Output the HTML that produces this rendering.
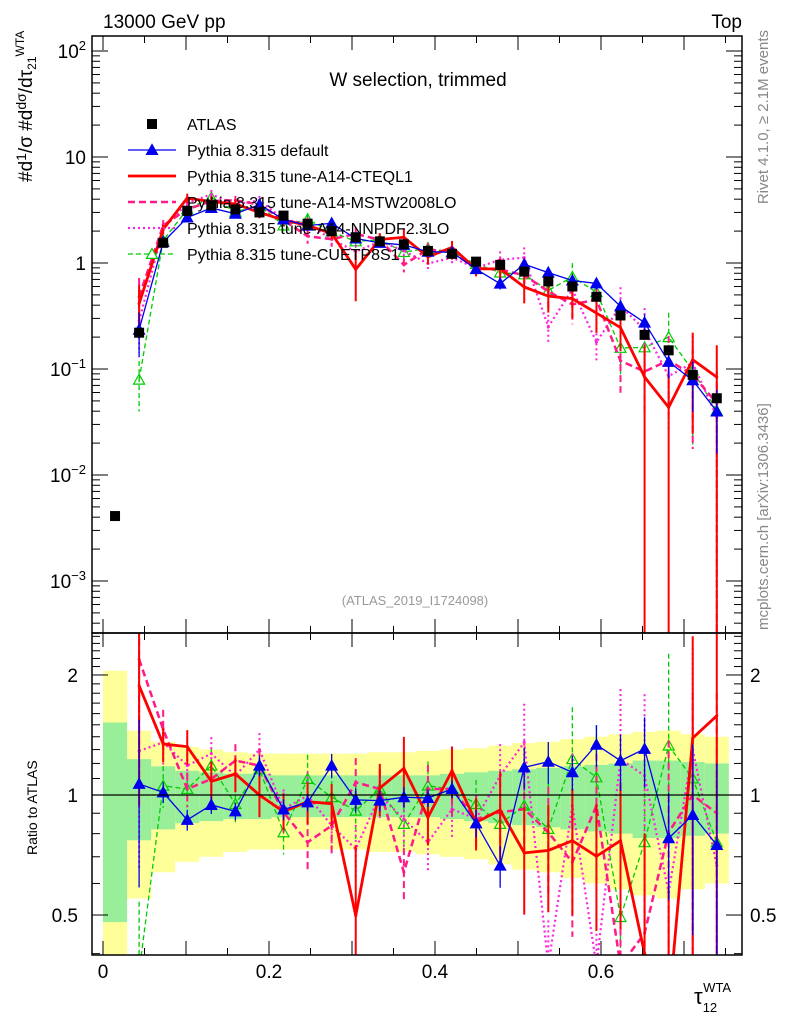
<!DOCTYPE html>
<html><head><meta charset="utf-8"><style>
html,body{margin:0;padding:0;background:#fff;width:786px;height:1024px;overflow:hidden;}
svg{display:block;font-family:"Liberation Sans",sans-serif;overflow:hidden;}
</style></head><body>
<svg id="chart" width="786" height="1024" viewBox="0 0 786 1024">
<defs>
<clipPath id="cm"><rect x="92" y="36" width="650" height="597"/></clipPath>
<clipPath id="cr"><rect x="92" y="633" width="650" height="322"/></clipPath>
</defs>
<g id="ratio-bands" clip-path="url(#cr)"></g>
<g id="main-series" clip-path="url(#cm)"></g>
<g id="ratio-series" clip-path="url(#cr)"></g>
<line x1="92" y1="795" x2="742" y2="795" stroke="#000" stroke-width="1.2"/>
<rect x="92" y="36" width="650" height="597" fill="none" stroke="#000" stroke-width="1.5"/>
<rect x="92" y="633" width="650" height="322" fill="none" stroke="#000" stroke-width="1.5"/>
<g id="ticks" stroke="#000" stroke-width="1"></g>
<g id="labels" font-size="19" fill="#000"></g>
<text x="103" y="28" font-size="19">13000 GeV pp</text>
<text x="742" y="28" font-size="19" text-anchor="end">Top</text>
<text x="418" y="86" font-size="19" text-anchor="middle">W selection, trimmed</text>
<text x="415" y="605" font-size="13" fill="#999" text-anchor="middle">(ATLAS_2019_I1724098)</text>
<text transform="translate(768,30) rotate(-90)" font-size="15" fill="#888" text-anchor="end">Rivet 4.1.0, ≥ 2.1M events</text>
<text transform="translate(768,630) rotate(-90)" font-size="15" fill="#888">mcplots.cern.ch [arXiv:1306.3436]</text>
<text transform="translate(32,182) rotate(-90)" font-size="19">#d<tspan font-size="14" dy="-6">1</tspan><tspan dy="6">/σ</tspan> #d<tspan font-size="14" dy="-6">dσ</tspan><tspan dy="6">/dτ</tspan><tspan font-size="12" dy="4">21</tspan><tspan font-size="12" dy="-12">WTA</tspan></text>
<text transform="translate(37,855) rotate(-90)" font-size="14">Ratio to ATLAS</text>
<text x="694" y="1004" font-size="22">τ<tspan font-size="13" dy="8">12</tspan><tspan font-size="13" dx="-14" dy="-20">WTA</tspan></text>
<g id="legend" font-size="16"></g>
</svg>
<script>
const binWidth = 0.029;
const atlas = [0.0041,0.22,1.55,3.1,3.5,3.2,3.0,2.8,2.35,2.0,1.75,1.6,1.5,1.3,1.22,1.03,0.96,0.83,0.67,0.6,0.48,0.32,0.21,0.15,0.088,0.053];
const bandStat = [0.52,0.23,0.18,0.15,0.14,0.13,0.13,0.12,0.12,0.12,0.12,0.12,0.12,0.12,0.13,0.14,0.15,0.16,0.17,0.18,0.19,0.20,0.22,0.22,0.21,0.20];
const bandTot = [1.05,0.45,0.36,0.32,0.30,0.28,0.27,0.27,0.27,0.27,0.27,0.28,0.28,0.29,0.30,0.31,0.33,0.35,0.36,0.38,0.40,0.42,0.44,0.45,0.42,0.40];
const ratioDefault = [1.066,1.015,0.866,0.944,0.91,1.185,0.92,0.958,1.185,0.972,0.968,0.987,0.983,1.035,0.849,0.665,1.173,1.212,1.14,1.337,1.219,1.305,0.779,0.891,0.749];
const ratioCTEQ = [1.88,1.342,1.322,1.082,1.129,1.0,0.908,0.962,0.951,0.498,1.041,1.166,0.879,1.151,0.854,0.917,0.716,0.726,0.768,0.702,0.768,0.4,0.29,1.39,1.58];
const ratioMSTW = [2.19,1.46,1.035,1.097,1.22,1.185,0.905,0.761,0.838,1.076,1.035,0.64,1.035,1.035,0.871,0.905,0.922,0.806,0.678,0.94,0.373,0.45,0.806,1.0,0.9];
const ratioNNPDF = [1.29,1.355,1.185,1.27,1.118,1.30,0.922,0.996,0.838,0.732,0.996,0.871,0.761,0.922,0.871,1.118,1.355,0.373,0.94,0.373,1.23,1.118,0.57,1.30,0.665];
const ratioCUETP = [0.36,1.055,1.035,1.185,0.949,1.16,0.806,1.097,0.987,0.913,1.035,0.846,1.055,1.035,0.949,0.846,0.94,0.822,1.23,1.107,0.494,0.761,1.33,1.1,0.761];
const errDefault = [0.45,0.06,0.06,0.05,0.05,0.06,0.06,0.05,0.07,0.07,0.06,0.06,0.05,0.05,0.08,0.12,0.12,0.12,0.1,0.12,0.16,0.2,0.3,0.5,0.6];
const errCTEQ = [0.5,0.1,0.1,0.12,0.1,0.12,0.1,0.12,0.12,0.5,0.15,0.2,0.15,0.15,0.15,0.25,0.3,0.3,0.35,0.35,0.4,1,1,0.8,1];
const errOther = [0.5,0.12,0.1,0.1,0.1,0.1,0.12,0.15,0.15,0.15,0.12,0.15,0.15,0.15,0.15,0.2,0.25,0.3,0.35,0.35,0.5,0.6,0.7,0.8,1];
const xTicks = [0,0.2,0.4,0.6];
const mainTicks = [2,1,0,-1,-2,-3];
const ratioTicks = [2,1,0.5];

const NS="http://www.w3.org/2000/svg";
const xs = v => 103 + 830*v;
const ym = v => 263 - 106*Math.log10(v);
const yr = r => r<=0 ? 2000 : 795 - 398.7*Math.log10(r);
const ctr = k => (k+0.5)*binWidth;
function mk(tag, attrs, parent){const e=document.createElementNS(NS,tag);for(const k in attrs)e.setAttribute(k,attrs[k]);parent.appendChild(e);return e;}

const bands=document.getElementById('ratio-bands');
const mainG=document.getElementById('main-series');
const ratG=document.getElementById('ratio-series');
atlas.forEach((v,k)=>{
  const x0=xs(k*binWidth), x1=xs((k+1)*binWidth);
  const top=yr(1+bandTot[k]), bot=Math.min(yr(1-bandTot[k]),960);
  const yb=mk('rect',{x:x0,y:top,width:x1-x0,height:bot-top,fill:'#ffff99'},bands);
  
  
});
atlas.forEach((v,k)=>{
  const x0=xs(k*binWidth), x1=xs((k+1)*binWidth);
  const gb=mk('rect',{x:x0,y:yr(1+bandStat[k]),width:x1-x0,height:yr(1-bandStat[k])-yr(1+bandStat[k]),fill:'#99ee99'},bands);
  
  
});

const series=[
 {name:'cuetp8s1',r:ratioCUETP,e:errOther,c:'#00cc00',w:1.3,d:'5,3',m:'open'},
 {name:'nnpdf23lo',r:ratioNNPDF,e:errOther,c:'#ff22dd',w:2.2,d:'2,3',m:'dot'},
 {name:'mstw2008lo',r:ratioMSTW,e:errOther,c:'#ff1a88',w:2.5,d:'7,4',m:'dot'},
 {name:'cteql1',r:ratioCTEQ,e:errCTEQ,c:'#ff0000',w:2.8,d:'',m:'dot'},
 {name:'default',r:ratioDefault,e:errDefault,c:'#0000ee',w:1.3,d:'',m:'tri'}
];
function tri(x,y,s,fill,stroke,g){return mk('polygon',{points:`${x},${y-s} ${x-s},${y+s*0.8} ${x+s},${y+s*0.8}`,fill:fill,stroke:stroke,'stroke-width':1.2},g);}
const clampY=(y,lo,hi)=>Math.max(lo,Math.min(hi,y));
series.forEach(s=>{
  [['main',mainG],['ratio',ratG]].forEach(([pan,g])=>{
    const lo=pan==='main'?30:628, hi=pan==='main'?640:962;
    const pts=s.r.map((r,i)=>{const k=i+1;const y=pan==='main'?ym(atlas[k]*r):yr(r);return [xs(ctr(k)),clampY(y,lo-200,hi+200)];});
    s.r.forEach((r,i)=>{
      const k=i+1;const x=xs(ctr(k));
      const l=Math.max(r*(1-s.e[i]),1e-6), h=r*(1+s.e[i]);
      const y1=pan==='main'?ym(atlas[k]*h):yr(h), y2=pan==='main'?ym(atlas[k]*l):yr(l);
      const eb=mk('line',{x1:x,x2:x,y1:clampY(y1,lo,hi),y2:clampY(y2,lo,hi),stroke:s.c,'stroke-width':Math.min(s.w,2),'stroke-dasharray':s.d},g);
      
      
    });
    const pl=mk('polyline',{points:pts.map(p=>p.join(',')).join(' '),fill:'none',stroke:s.c,'stroke-width':s.w,'stroke-dasharray':s.d},g);
    
    
    pts.forEach(p=>{
      if(p[1]<lo||p[1]>hi)return;
      let m;
      if(s.m==='tri') m=tri(p[0],p[1],5.5,s.c,s.c,g);
      else if(s.m==='open') m=tri(p[0],p[1],5.5,'none',s.c,g);
      else m=mk('circle',{cx:p[0],cy:p[1],r:1.5,fill:s.c},g);
      
      
    });
  });
});
atlas.forEach((v,k)=>{
  const x=xs(ctr(k));
  const sq=mk('rect',{x:x-5,y:ym(v)-5,width:10,height:10,fill:'#000'},mainG);
  
  
});

const tg=document.getElementById('ticks');
const lg=document.getElementById('labels');
function tick(x1,y1,x2,y2){const t=mk('line',{x1,y1,x2,y2},tg);}
for(let v=0;v<=0.76;v+=0.05){const x=xs(v);const L=(Math.round(v*100)%10===0)?14:7;
  tick(x,633,x,633-L);tick(x,36,x,36+L);tick(x,955,x,955-L);tick(x,633,x,633+L);}
for(let e=-4;e<=2;e++){for(let m=1;m<10;m++){const y=263-106*(e+Math.log10(m));if(y<36||y>633)continue;const L=m===1?16:8;tick(92,y,92+L,y);tick(742,y,742-L,y);}}
for(let r=0.4;r<=2.6;r+=0.1){const y=yr(r);if(y<633||y>955)continue;const maj=[0.5,1,2].some(q=>Math.abs(q-r)<1e-6);const L=maj?16:8;tick(92,y,92+L,y);tick(742,y,742-L,y);}
xTicks.forEach(v=>{const t=mk('text',{x:xs(v),y:978,'text-anchor':'middle'},lg);t.textContent=String(v);});
mainTicks.forEach(e=>{const y=263-106*e+7;const t=mk('text',{x:86,y:y,'text-anchor':'end'},lg);
  if(e===1)t.textContent='10';else if(e===0)t.textContent='1';else{t.innerHTML='10<tspan font-size="13" dy="-8">'+(e<0?'−'+(-e):e)+'</tspan>';}
  });
ratioTicks.forEach(r=>{const y=yr(r)+7;
  const a=mk('text',{x:78,y:y,'text-anchor':'end'},lg);a.textContent=String(r);
  const b=mk('text',{x:750,y:y},lg);b.textContent=String(r);});

const leg=document.getElementById('legend');
const legNames=['ATLAS','Pythia 8.315 default','Pythia 8.315 tune-A14-CTEQL1','Pythia 8.315 tune-A14-MSTW2008LO','Pythia 8.315 tune-A14-NNPDF2.3LO','Pythia 8.315 tune-CUETP8S1'];
const legStyle=[null,series[4],series[3],series[2],series[1],series[0]];
legNames.forEach((n,i)=>{const y=124+26*i;
  const s=legStyle[i];
  if(!s){const q=mk('rect',{x:147,y:y-5,width:10,height:10,fill:'#000'},leg);}
  else{const l=mk('line',{x1:128,x2:176,y1:y,y2:y,stroke:s.c,'stroke-width':s.w,'stroke-dasharray':s.d},leg);
    if(s.m==='tri'){const m=tri(152,y,5.5,s.c,s.c,leg);}
    if(s.m==='open'){const m=tri(152,y,5.5,'#fff',s.c,leg);}}
  const t=mk('text',{x:187,y:y+6},leg);t.textContent=n;
});
</script>
</body></html>
